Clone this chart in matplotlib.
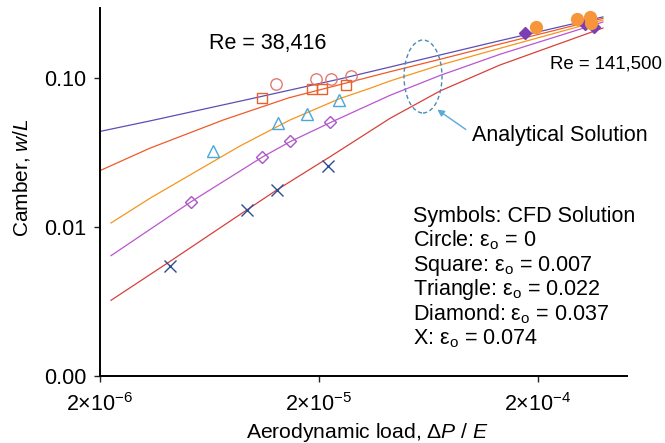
import matplotlib as mpl
mpl.use('Agg')
import matplotlib.pyplot as plt
from matplotlib.patches import Ellipse
from matplotlib.ticker import FixedLocator, FixedFormatter, NullLocator

plt.rcParams['font.family'] = ['Liberation Sans', 'DejaVu Sans']
plt.rcParams['mathtext.fontset'] = 'custom'
plt.rcParams['mathtext.rm'] = 'Liberation Sans'
plt.rcParams['mathtext.it'] = 'Liberation Sans:italic'
plt.rcParams['mathtext.bf'] = 'Liberation Sans:bold'

# analytical solution curves
x_a0 = [2.0e-6, 3.38e-6, 9.68e-6, 2.49e-5, 4.22e-5, 7.14e-5, 1.34e-4, 3.96e-4]
y_a0 = [0.0438, 0.0515, 0.0723, 0.0985, 0.1185, 0.1427, 0.178, 0.257]

x_a007 = [2.0e-6, 3.38e-6, 7.29e-6, 1.45e-5, 4.22e-5, 7.14e-5, 1.34e-4, 3.96e-4]
y_a007 = [0.0239, 0.0338, 0.0522, 0.0735, 0.1102, 0.1335, 0.169, 0.2515]

x_a022 = [2.245e-6, 3.38e-6, 5.15e-6, 8.72e-6, 1.474e-5, 2.494e-5, 3.42e-5, 4.22e-5,
          7.14e-5, 1.34e-4, 3.96e-4]
y_a022 = [0.01064, 0.01558, 0.02234, 0.03498, 0.05224, 0.07285, 0.0853, 0.0955,
          0.1222, 0.1582, 0.2451]

x_a037 = [2.245e-6, 5.21e-6, 1.098e-5, 1.474e-5, 2.245e-5, 4.22e-5, 7.14e-5, 1.34e-4, 3.96e-4]
y_a037 = [0.00642, 0.01478, 0.02936, 0.03736, 0.0501, 0.0765, 0.1040, 0.1442, 0.2376]

x_a074 = [2.245e-6, 4.17e-6, 9.35e-6, 1.282e-5, 2.245e-5, 4.22e-5, 7.14e-5, 1.34e-4, 3.96e-4]
y_a074 = [0.00322, 0.00587, 0.0130, 0.01771, 0.0296, 0.0536, 0.0818, 0.1222, 0.2166]

# CFD points, Re = 38,416
x_circ = [1.273e-5, 1.938e-5, 2.276e-5, 2.79e-5]
y_circ = [0.0905, 0.098, 0.0989, 0.1035]
x_sq = [1.102e-5, 1.864e-5, 2.07e-5, 2.648e-5]
y_sq = [0.0731, 0.084, 0.0844, 0.0898]
x_tri = [6.53e-6, 1.296e-5, 1.768e-5, 2.468e-5]
y_tri = [0.0325, 0.0497, 0.0573, 0.0712]
x_dia = [5.21e-6, 1.098e-5, 1.48e-5, 2.245e-5]
y_dia = [0.01478, 0.02936, 0.0375, 0.0505]
x_x = [4.17e-6, 9.35e-6, 1.282e-5, 2.205e-5]
y_x = [0.0055, 0.0130, 0.01771, 0.02566]

# CFD points, Re = 141,500
x_circ_hi = [1.958e-4, 3.01e-4, 3.46e-4, 3.49e-4]
y_circ_hi = [0.2199, 0.2489, 0.2567, 0.2357]
x_dia_hi = [1.744e-4, 3.28e-4, 3.6e-4]
y_dia_hi = [0.2005, 0.2304, 0.2216]

xticks = [2e-6, 2e-5, 2e-4]
xticklabels = [r'2$\times$10$^{-6}$', r'2$\times$10$^{-5}$', r'2$\times$10$^{-4}$']
yticks = [0.001, 0.01, 0.1]
yticklabels = ['0.00', '0.01', '0.10']

W, H = 665, 443
def fp(x, y):
  return (x / W, 1 - y / H)

fig = plt.figure(figsize=(6.65, 4.43), dpi=100)
ax = fig.add_axes([100 / W, 1 - 376 / H, 527 / W, 368 / H])

lw = 0.9
ax.plot(x_a0, y_a0, color='#5a4fb5', lw=lw)
ax.plot(x_a007, y_a007, color='#f05a28', lw=lw)
ax.plot(x_a022, y_a022, color='#f7941d', lw=lw)
ax.plot(x_a037, y_a037, color='#bb55d0', lw=lw)
ax.plot(x_a074, y_a074, color='#d8403a', lw=lw)

ax.plot(x_circ, y_circ, 'o', ls='none', mfc='none', mec='#e27b72', ms=8.2, mew=1)
ax.plot(x_sq, y_sq, 's', ls='none', mfc='none', mec='#e8602c', ms=7.5, mew=1)
ax.plot(x_tri, y_tri, '^', ls='none', mfc='none', mec='#4aa8d8', ms=8, mew=1)
ax.plot(x_dia, y_dia, 'D', ls='none', mfc='none', mec='#a855c8', ms=6, mew=1)
ax.plot(x_x, y_x, 'x', ls='none', color='#2b4f8f', ms=8, mew=1)

ax.plot(x_dia_hi, y_dia_hi, 'D', ls='none', color='#7b3fb3', ms=6)
ax.plot(x_circ_hi, y_circ_hi, 'o', ls='none', color='#f7953b', ms=8.5)

ax.set_xscale('log')
ax.set_yscale('log')
ax.set_xlim(2e-6, 5.1e-4)
ax.set_ylim(0.001, 0.295)
ax.xaxis.set_major_locator(FixedLocator(xticks))
ax.xaxis.set_major_formatter(FixedFormatter(xticklabels))
ax.xaxis.set_minor_locator(NullLocator())
ax.yaxis.set_major_locator(FixedLocator(yticks))
ax.yaxis.set_major_formatter(FixedFormatter(yticklabels))
ax.yaxis.set_minor_locator(NullLocator())

for s in ['top', 'right']:
  ax.spines[s].set_visible(False)
for s in ['left', 'bottom']:
  ax.spines[s].set_linewidth(1.4)
ax.tick_params(axis='both', length=4, width=1, labelsize=15.5, color='#222222')
ax.tick_params(axis='x', pad=8)
ax.tick_params(axis='y', pad=6)

ax.set_xlabel(r'Aerodynamic load, $\Delta$$\it{P}$ / $\it{E}$', fontsize=15.2)
ax.xaxis.set_label_coords(0.508, -0.122)
ax.set_ylabel(r'Camber, $\it{w/L}$', fontsize=15)
ax.yaxis.set_label_coords(-0.129, 0.54)

fig.text(*fp(268, 44), 'Re = 38,416', fontsize=15.5, ha='center', va='center')
fig.text(*fp(550, 64), 'Re = 141,500', fontsize=13.4, ha='left', va='center')
fig.text(*fp(472, 135), 'Analytical Solution', fontsize=15.5, ha='left', va='center')

legend_lines = ['Symbols: CFD Solution',
                r'Circle: $\mathrm{ε}_\mathrm{o}$ = 0',
                r'Square: $\mathrm{ε}_\mathrm{o}$ = 0.007',
                r'Triangle: $\mathrm{ε}_\mathrm{o}$ = 0.022',
                r'Diamond: $\mathrm{ε}_\mathrm{o}$ = 0.037',
                r'X: $\mathrm{ε}_\mathrm{o}$ = 0.074']
for i, t in enumerate(legend_lines):
  fig.text(*fp(413, 222.3 + 24.4 * i), t, fontsize=15.5, ha='left', va='baseline')

ell = Ellipse(fp(423, 76.5), 38 / W, 73 / H, transform=fig.transFigure,
              fill=False, ec='#4a8ab8', lw=1, ls=(0, (3, 2)))
fig.add_artist(ell)
ax.annotate('', xy=fp(435, 108), xycoords='figure fraction',
            xytext=fp(468, 131), textcoords='figure fraction',
            arrowprops=dict(arrowstyle='-|>', color='#5aaad8', lw=1, mutation_scale=10))

plt.savefig('out.png', dpi=100)
